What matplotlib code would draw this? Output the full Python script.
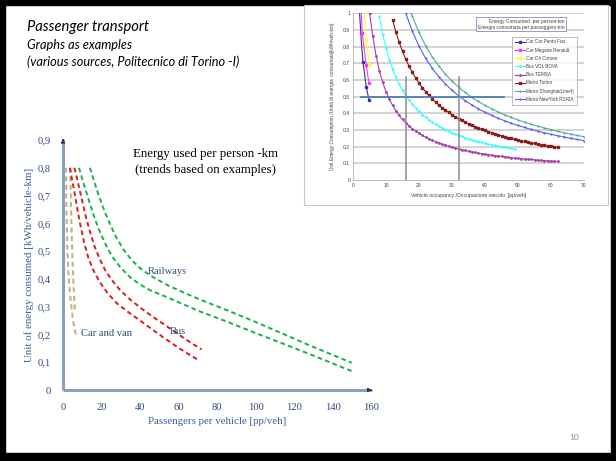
import matplotlib
matplotlib.use("Agg")
import matplotlib.pyplot as plt
from matplotlib.patches import Rectangle

# ---- main chart (trends) ----
car_a_x = [1.5, 1.8, 2.3, 3.0, 4.0, 5.2, 6.6]
car_a_y = [0.80, 0.65, 0.50, 0.40, 0.32, 0.25, 0.20]
car_b_x = [3.8, 4.1, 4.5, 5.0, 5.6, 6.2]
car_b_y = [0.80, 0.68, 0.56, 0.45, 0.36, 0.28]
bus_lo_x = [3.6, 4.5, 6, 7.5, 9, 11, 13, 15.5, 19, 23, 28, 33, 38, 45, 52, 60, 65, 70.3]
bus_lo_y = [0.80, 0.765, 0.71, 0.65, 0.595, 0.53, 0.48, 0.435, 0.39, 0.35, 0.312, 0.285,
            0.26, 0.225, 0.19, 0.152, 0.13, 0.108]
bus_hi_x = [5.9, 7, 8.5, 10, 12, 14, 16.5, 19.2, 22, 26, 30, 35, 41, 47, 53, 60, 66, 72]
bus_hi_y = [0.80, 0.77, 0.725, 0.68, 0.62, 0.57, 0.515, 0.47, 0.43, 0.39, 0.357, 0.325,
            0.292, 0.262, 0.234, 0.20, 0.172, 0.146]
rail_lo_x = [8.3, 10, 12, 14, 16, 18, 20, 23, 26, 30, 35, 40, 45, 54, 62, 71, 86, 100, 115, 130, 150]
rail_lo_y = [0.80, 0.76, 0.715, 0.67, 0.628, 0.59, 0.556, 0.512, 0.476, 0.44, 0.405, 0.38,
             0.36, 0.334, 0.31, 0.283, 0.244, 0.205, 0.165, 0.124, 0.068]
rail_hi_x = [14, 16, 18, 20, 22, 25, 28, 32, 36, 41, 47, 55, 63, 71, 86, 100, 115, 130, 150]
rail_hi_y = [0.80, 0.755, 0.712, 0.673, 0.636, 0.588, 0.545, 0.50, 0.465, 0.433, 0.405,
             0.375, 0.35, 0.326, 0.285, 0.245, 0.20, 0.155, 0.098]
main_xticks = [0, 20, 40, 60, 80, 100, 120, 140, 160]
main_yticks = [0, 0.1, 0.2, 0.3, 0.4, 0.5, 0.6, 0.7, 0.8, 0.9]
main_yticklabels = ["0", "0,1", "0,2", "0,3", "0,4", "0,5", "0,6", "0,7", "0,8", "0,9"]

# ---- inset chart (examples) ----
punto_x = [2.0, 2.5, 3.0, 4.0, 4.85]
punto_y = [1.0, 0.84, 0.71, 0.56, 0.48]
megane_x = [2.5, 2.8, 4.0, 4.85]
megane_y = [1.0, 0.88, 0.69, 0.58]
c4_x = [3.5, 4.0, 5.0]
c4_y = [1.0, 0.84, 0.69]
vdl_x = list(range(8, 50))
vdl_y = [0.981, 0.876, 0.791, 0.722, 0.664, 0.615, 0.574, 0.537, 0.506, 0.478,
         0.453, 0.431, 0.411, 0.392, 0.376, 0.361, 0.347, 0.334, 0.323, 0.312,
         0.302, 0.292, 0.284, 0.275, 0.268, 0.261, 0.254, 0.247, 0.241, 0.236,
         0.230, 0.225, 0.220, 0.216, 0.211, 0.207, 0.203, 0.199, 0.195, 0.192,
         0.189, 0.185]
temsa_x = list(range(5, 63))
temsa_y = [1.0, 0.863, 0.744, 0.655, 0.586, 0.530, 0.485, 0.447, 0.415, 0.387,
           0.363, 0.343, 0.324, 0.308, 0.293, 0.280, 0.268, 0.257, 0.247, 0.238,
           0.230, 0.222, 0.215, 0.209, 0.202, 0.197, 0.191, 0.186, 0.182, 0.177,
           0.173, 0.169, 0.165, 0.162, 0.158, 0.155, 0.152, 0.149, 0.146, 0.144,
           0.141, 0.139, 0.136, 0.134, 0.132, 0.130, 0.128, 0.126, 0.124, 0.123,
           0.121, 0.119, 0.118, 0.116, 0.115, 0.113, 0.112, 0.111]
torino_x = list(range(12, 63))
torino_y = [0.961, 0.888, 0.826, 0.771, 0.724, 0.682, 0.645, 0.611, 0.582, 0.554,
            0.530, 0.507, 0.487, 0.468, 0.450, 0.434, 0.419, 0.405, 0.392, 0.379,
            0.368, 0.357, 0.347, 0.337, 0.328, 0.320, 0.312, 0.304, 0.297, 0.290,
            0.283, 0.277, 0.271, 0.265, 0.260, 0.254, 0.249, 0.244, 0.240, 0.235,
            0.231, 0.227, 0.223, 0.219, 0.215, 0.212, 0.208, 0.205, 0.202, 0.199,
            0.196]
shanghai_x = [17.6, 18, 20, 22, 24, 26, 28, 30, 32, 34, 36, 38, 40, 42, 44, 46,
              48, 50, 52, 54, 56, 58, 60, 62, 64, 66, 68, 70]
shanghai_y = [1.0, 0.982, 0.885, 0.805, 0.739, 0.683, 0.635, 0.593, 0.557, 0.525,
              0.496, 0.471, 0.448, 0.427, 0.408, 0.390, 0.375, 0.360, 0.347, 0.334,
              0.323, 0.312, 0.302, 0.292, 0.283, 0.275, 0.267, 0.260]
ny_x = [16, 18, 20, 22, 24, 26, 28, 30, 32, 34, 36, 38, 40, 42, 44, 46, 48, 50,
        52, 54, 56, 58, 60, 62, 64, 66, 68, 70]
ny_y = [1.0, 0.891, 0.803, 0.730, 0.670, 0.620, 0.576, 0.538, 0.505, 0.476, 0.450,
        0.427, 0.406, 0.387, 0.370, 0.355, 0.340, 0.327, 0.315, 0.303, 0.293, 0.283,
        0.274, 0.266, 0.258, 0.250, 0.243, 0.236]
ref_h_x = [2.3, 45.7]
ref_h_y = [0.5, 0.5]
ref_v_x = [16, 32]
ref_v_top = 0.62
inset_xticks = [0, 10, 20, 30, 40, 50, 60, 70]
inset_yticks = [0, 0.1, 0.2, 0.3, 0.4, 0.5, 0.6, 0.7, 0.8, 0.9, 1.0]
inset_yticklabels = ["0", "0.1", "0.2", "0.3", "0.4", "0.5", "0.6", "0.7", "0.8", "0.9", "1"]

W, H = 616, 461
fig = plt.figure(figsize=(W / 100, H / 100), dpi=100)
fig.patch.set_facecolor("white")


def fx(px):
    return px / W


def fy(py):
    return 1 - py / H


# slide frame (black border)
fig.patches.append(Rectangle((0, fy(5)), 1, fy(0) - fy(5), transform=fig.transFigure, color="black", zorder=0))
fig.patches.append(Rectangle((0, 0), 1, fy(453), transform=fig.transFigure, color="black", zorder=0))
fig.patches.append(Rectangle((0, 0), fx(5), 1, transform=fig.transFigure, color="black", zorder=0))
fig.patches.append(Rectangle((fx(611), 0), 1 - fx(611), 1, transform=fig.transFigure, color="black", zorder=0))

# slide header
hdr = ["Lato", "DejaVu Sans"]
fig.text(fx(27), fy(27), "Passenger transport", family=hdr, style="italic", fontsize=10.6, va="center")
fig.text(fx(27), fy(45), "Graphs as examples", family=hdr, style="italic", fontsize=9.2, va="center")
fig.text(fx(27), fy(62), "(various sources, Politecnico di Torino -I)", family=hdr, style="italic",
         fontsize=9.2, va="center")
fig.text(fx(574), fy(437), "10", family=hdr, fontsize=6, color="#8c8c8c", ha="center", va="center")

# ---------------- main chart ----------------
serif = ["Liberation Serif", "DejaVu Serif"]
navy = "#2f4a7a"
ax = fig.add_axes([fx(63), fy(390), fx(371) - fx(63), fy(140) - fy(390)])
ax.set_xlim(0, 160)
ax.set_ylim(0, 0.9)
for s in ax.spines.values():
    s.set_visible(False)
dash = (0, (2.4, 1.7))
ax.plot(car_a_x, car_a_y, color="#bdb58a", lw=1.5, ls=dash)
ax.plot(car_b_x, car_b_y, color="#bdb58a", lw=1.5, ls=dash)
ax.plot(bus_lo_x, bus_lo_y, color="#d51f1f", lw=1.4, ls=dash)
ax.plot(bus_hi_x, bus_hi_y, color="#d51f1f", lw=1.4, ls=dash)
ax.plot(rail_lo_x, rail_lo_y, color="#19b04f", lw=1.4, ls=dash)
ax.plot(rail_hi_x, rail_hi_y, color="#19b04f", lw=1.4, ls=dash)

# axes with arrows
ax.plot([0, 0], [0, 0.905], color="#8d9fbb", lw=2.2, clip_on=False, solid_capstyle="butt")
ax.plot([0, 160.5], [0, 0], color="#8d9fbb", lw=2.2, clip_on=False, solid_capstyle="butt")
ax.annotate("", xy=(0, 0.915), xytext=(0, 0.89), annotation_clip=False,
            arrowprops=dict(arrowstyle="-|>", color="#1f3864", lw=0.8, mutation_scale=6))
ax.annotate("", xy=(162, 0), xytext=(158, 0), annotation_clip=False,
            arrowprops=dict(arrowstyle="-|>", color="#1f3864", lw=0.8, mutation_scale=6))

ax.set_xticks(main_xticks)
ax.set_yticks(main_yticks)
ax.set_yticklabels(main_yticklabels)
ax.tick_params(length=0, pad=9, labelsize=7.6, labelcolor=navy)
for lab in ax.get_xticklabels() + ax.get_yticklabels():
    lab.set_family(serif)
ax.set_xlabel("Passengers per vehicle [pp/veh]", family=serif, fontsize=7.8, color="#35619a", labelpad=4)
ax.set_ylabel("Unit of energy consumed [kWh/vehicle-km]", family=serif, fontsize=7.8,
              color="#35619a", labelpad=2)
ax.text(0.462, 0.912, "Energy used per person -km\n(trends based on examples)", transform=ax.transAxes,
        family=serif, fontsize=9.3, ha="center", va="center", linespacing=1.5)
ax.text(44.2, 0.428, "Railways", family=serif, fontsize=7.6, color=navy, va="center")
ax.text(9.4, 0.205, "Car and van", family=serif, fontsize=7.6, color=navy, va="center")
ax.text(55.6, 0.209, "Bus", family=serif, fontsize=7.6, color=navy, va="center")

# ---------------- inset (picture of examples) ----------------
fig.patches.append(Rectangle((fx(304), fy(205)), fx(608) - fx(304), fy(5) - fy(205),
                             transform=fig.transFigure, facecolor="white", edgecolor="#c8c8c8",
                             lw=0.8, zorder=1))
sans = ["Liberation Sans", "DejaVu Sans"]
ia = fig.add_axes([fx(353), fy(180), fx(584) - fx(353), fy(13.3) - fy(180)])
ia.set_zorder(2)
ia.set_xlim(0, 70)
ia.set_ylim(0, 1)
for s in ("top", "right"):
    ia.spines[s].set_visible(False)
for s in ("left", "bottom"):
    ia.spines[s].set_color("#b0b0b0")
    ia.spines[s].set_linewidth(0.6)
for yv in inset_yticks[1:]:
    ia.axhline(yv, color="#d0d0d0", lw=1.3, zorder=0)
ia.plot(vdl_x, vdl_y, color="#33ffff", lw=0.8, marker="o", ms=0.8, label="Bus VDL BOVA", zorder=3)
ia.plot(temsa_x, temsa_y, color="#a040a8", lw=0.8, marker="o", ms=1.0, label="Bus TEMSA", zorder=3)
ia.plot(torino_x, torino_y, color="#8b1a1a", lw=0.8, marker="s", ms=1.5, label="Metro Torino", zorder=3)
ia.plot(shanghai_x, shanghai_y, color="#55aaa0", lw=0.8, marker="o", ms=0.6,
        label="Metro Shanghai(Line4)", zorder=3)
ia.plot(ny_x, ny_y, color="#5c5cf0", lw=0.8, marker="o", ms=0.6, label="Metro NewYork R142A", zorder=3)
ia.plot(punto_x, punto_y, color="#333399", lw=0.8, marker="o", ms=1.6, markevery=[2, 3, 4],
        label="Car Car Punto Fiat", zorder=4)
ia.plot(megane_x, megane_y, color="#ff33ff", lw=0.8, marker="s", ms=2.0, markevery=[1, 2, 3],
        label="Car Megane Renault", zorder=4)
ia.plot(c4_x, c4_y, color="#ffff33", lw=0.8, marker="s", ms=1.6, markevery=[1, 2],
        label="Car C4 Citroen", zorder=4)
ia.plot(ref_h_x, ref_h_y, color="#4f7db5", lw=1.3, zorder=5)
for xv in ref_v_x:
    ia.plot([xv, xv], [0, ref_v_top], color="#8c8c8c", lw=1.1, zorder=5)

ia.set_xticks(inset_xticks)
ia.set_yticks(inset_yticks)
ia.set_yticklabels(inset_yticklabels)
ia.tick_params(length=0, pad=2, labelsize=3.6, labelcolor="#404040")
for lab in ia.get_xticklabels() + ia.get_yticklabels():
    lab.set_family(sans)
ia.set_xlabel("Vehicle occupancy /Occupazione veicolo  [pp/veh]", family=sans, fontsize=3.7,
              color="#404040", labelpad=4)
ia.set_ylabel("Unit Energy Consumption /Unità di energia  consumata[kWh/veh-km]", family=sans,
              fontsize=3.4, color="#404040", labelpad=6)
ia.text(0.915, 0.935, "Energy Consumed  per person-km\nEnergia consumata per passeggero-km",
        transform=ia.transAxes, family=sans, fontsize=3.5, color="#404040", ha="right", va="center",
        bbox=dict(boxstyle="square,pad=0.35", fc="white", ec="#8090b0", lw=0.6), zorder=6)

h, l = ia.get_legend_handles_labels()
order = ["Car Car Punto Fiat", "Car Megane Renault", "Car C4 Citroen", "Bus VDL BOVA",
         "Bus TEMSA", "Metro Torino", "Metro Shanghai(Line4)", "Metro NewYork R142A"]
hd = dict(zip(l, h))
leg = ia.legend([hd[k] for k in order], order, loc="upper right", bbox_to_anchor=(0.97, 0.86),
                prop={"family": sans, "size": 3.3}, frameon=True, fancybox=False, borderpad=0.6,
                handlelength=2.2, labelspacing=0.7, handletextpad=0.4, borderaxespad=0)
leg.get_frame().set_edgecolor("#a0a0a0")
leg.get_frame().set_linewidth(0.6)
leg.set_zorder(7)
for t in leg.get_texts():
    t.set_color("#404040")

fig.savefig("out.png", dpi=100)
